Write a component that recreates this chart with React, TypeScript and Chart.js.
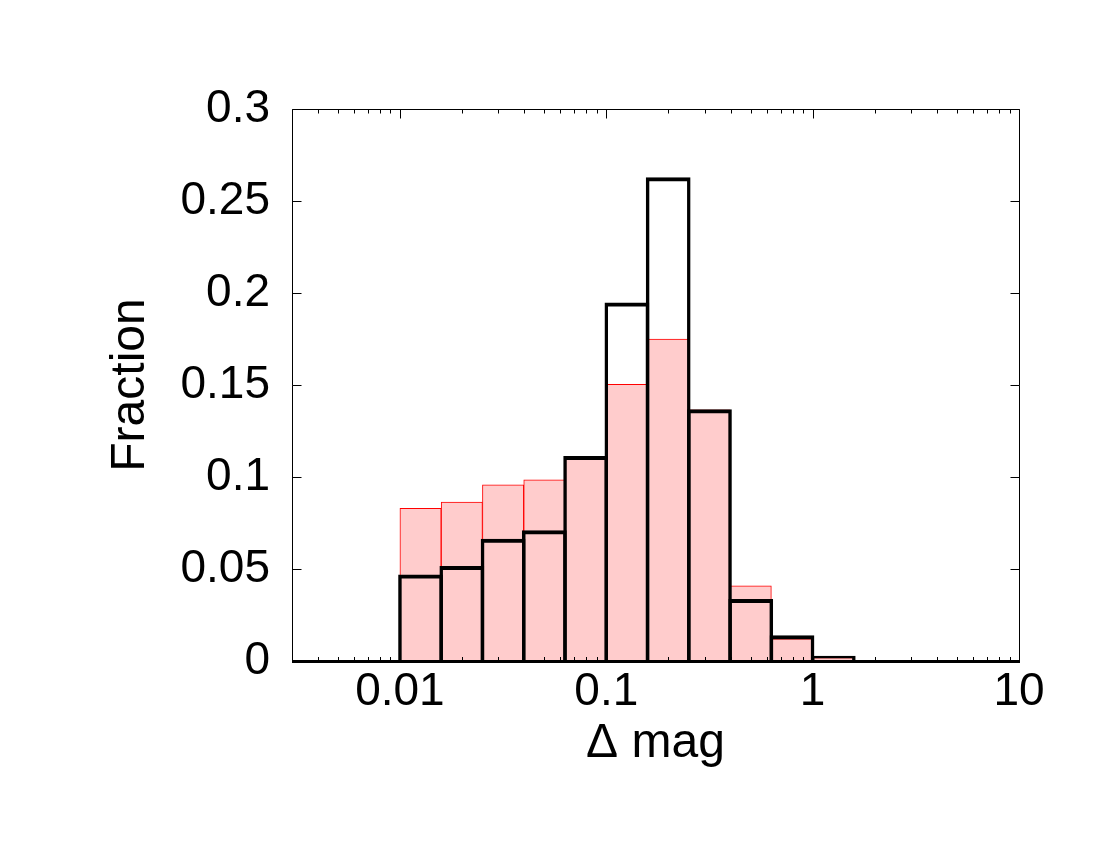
import React, { useEffect, useRef } from "react";
import { Chart, registerables } from "chart.js";

Chart.register(...registerables);

// Bin edges (Δ mag), 0.2-decade bins
const binLower = [0.01, 0.01585, 0.02512, 0.03981, 0.0631, 0.1, 0.1585, 0.2512, 0.3981, 0.631, 1, 1.585, 2.512];
const binUpper = [0.01585, 0.02512, 0.03981, 0.0631, 0.1, 0.1585, 0.2512, 0.3981, 0.631, 1, 1.585, 2.512, 3.981];

// Fraction per bin
const fractionRed = [0.083, 0.0864, 0.0958, 0.0984, 0.111, 0.1504, 0.175, 0.1365, 0.0409, 0.012, 0.0018, 0, 0];
const fractionBlack = [0.047, 0.0516, 0.0665, 0.071, 0.1114, 0.1949, 0.2629, 0.1368, 0.0337, 0.014, 0.0029, 0.0005, 0];

const xMajorTicks = [0.01, 0.1, 1, 10];
const yTicks = [0, 0.05, 0.1, 0.15, 0.2, 0.25, 0.3];
const xTitle = "Δ mag";
const yTitle = "Fraction";

const FONT = "'Liberation Sans', Arial, Helvetica, sans-serif";

export default function App() {
  const ref = useRef<HTMLCanvasElement>(null);

  useEffect(() => {
    if (!ref.current) return;
    const centers = binLower.map((lo, i) => Math.sqrt(lo * binUpper[i]));

    const framePlugin = {
      id: "frame",
      afterDatasetsDraw(chart: any) {
        const { ctx, chartArea: a, scales } = chart;
        const xs = scales.x;
        const ys = scales.y;
        const L = Math.round(a.left) + 0.5;
        const R = Math.round(a.right) + 0.5;
        const T = Math.round(a.top) + 0.5;
        const B = Math.round(a.bottom);
        ctx.save();
        ctx.strokeStyle = "#000";
        ctx.lineWidth = 1;
        ctx.beginPath();
        for (let d = -3; d <= 1; d++) {
          for (let m = 1; m <= 9; m++) {
            const v = m * Math.pow(10, d);
            if (v < xs.min * 0.9999 || v > xs.max * 1.0001) continue;
            const px = Math.round(xs.getPixelForValue(v)) + 0.5;
            const len = m === 1 ? 9 : 4;
            ctx.moveTo(px, B);
            ctx.lineTo(px, B - len);
            ctx.moveTo(px, T);
            ctx.lineTo(px, T + len);
          }
        }
        for (const v of yTicks) {
          const py = Math.round(ys.getPixelForValue(v)) + 0.5;
          ctx.moveTo(L, py);
          ctx.lineTo(L + 9, py);
          ctx.moveTo(R, py);
          ctx.lineTo(R - 9, py);
        }
        ctx.stroke();
        ctx.beginPath();
        ctx.moveTo(L, B);
        ctx.lineTo(L, T);
        ctx.lineTo(R, T);
        ctx.lineTo(R, B);
        ctx.stroke();
        ctx.lineWidth = 3;
        ctx.beginPath();
        ctx.moveTo(L - 0.5, B + 0.5);
        ctx.lineTo(R + 0.5, B + 0.5);
        ctx.stroke();
        ctx.restore();
      },
    };

    const tickFont = { family: FONT, size: 46 };
    const titleFont = { family: FONT, size: 48 };

    const chart = new Chart(ref.current, {
      type: "bar",
      data: {
        datasets: [
          {
            label: "black",
            data: centers.map((x, i) => ({ x, y: fractionBlack[i] })),
            backgroundColor: "rgba(0,0,0,0)",
            borderColor: "#000000",
            borderWidth: { top: 4, left: 3.5, right: 3.5, bottom: 0 },
            order: 1,
            grouped: false,
            barPercentage: 1.085,
            categoryPercentage: 1,
          } as any,
          {
            label: "red",
            data: centers.map((x, i) => ({ x, y: fractionRed[i] })),
            backgroundColor: "#ffcccc",
            borderColor: "#ff0000",
            borderWidth: 1,
            order: 2,
            grouped: false,
            barPercentage: 1.0,
            categoryPercentage: 1,
          } as any,
        ],
      },
      options: {
        animation: false,
        responsive: false,
        layout: { padding: { left: 0, right: 81, top: 109, bottom: 0 } },
        plugins: { legend: { display: false }, tooltip: { enabled: false } },
        scales: {
          x: {
            type: "logarithmic",
            min: 0.003,
            max: 10,
            afterBuildTicks: (s: any) => {
              s.ticks = xMajorTicks.map((v) => ({ value: v }));
            },
            afterFit: (s: any) => {
              s.height = 189;
            },
            grid: { display: false, drawTicks: false },
            border: { display: false },
            ticks: {
              autoSkip: false,
              maxRotation: 0,
              minRotation: 0,
              padding: 4,
              color: "#000",
              font: tickFont,
              callback: (v: any) => String(v),
            },
            title: {
              display: true,
              text: xTitle,
              color: "#000",
              font: titleFont,
              padding: { top: 0, bottom: 77 },
            },
          } as any,
          y: {
            type: "linear",
            min: 0,
            max: 0.3,
            afterBuildTicks: (s: any) => {
              s.ticks = yTicks.map((v) => ({ value: v }));
            },
            afterFit: (s: any) => {
              s.width = 292;
            },
            grid: { display: false, drawTicks: false },
            border: { display: false },
            ticks: {
              padding: 22,
              color: "#000",
              font: tickFont,
              callback: (v: any) => String(+Number(v).toFixed(2)),
            },
            title: {
              display: true,
              text: yTitle,
              color: "#000",
              font: titleFont,
              padding: { top: 102, bottom: 0 },
            },
          } as any,
        },
      },
      plugins: [framePlugin],
    });

    return () => chart.destroy();
  }, []);

  return (
    <div style={{ position: "absolute", left: 0, top: 0, width: 1100, height: 850, background: "#fff" }}>
      <canvas ref={ref} width={1100} height={850} style={{ display: "block" }} />
    </div>
  );
}
